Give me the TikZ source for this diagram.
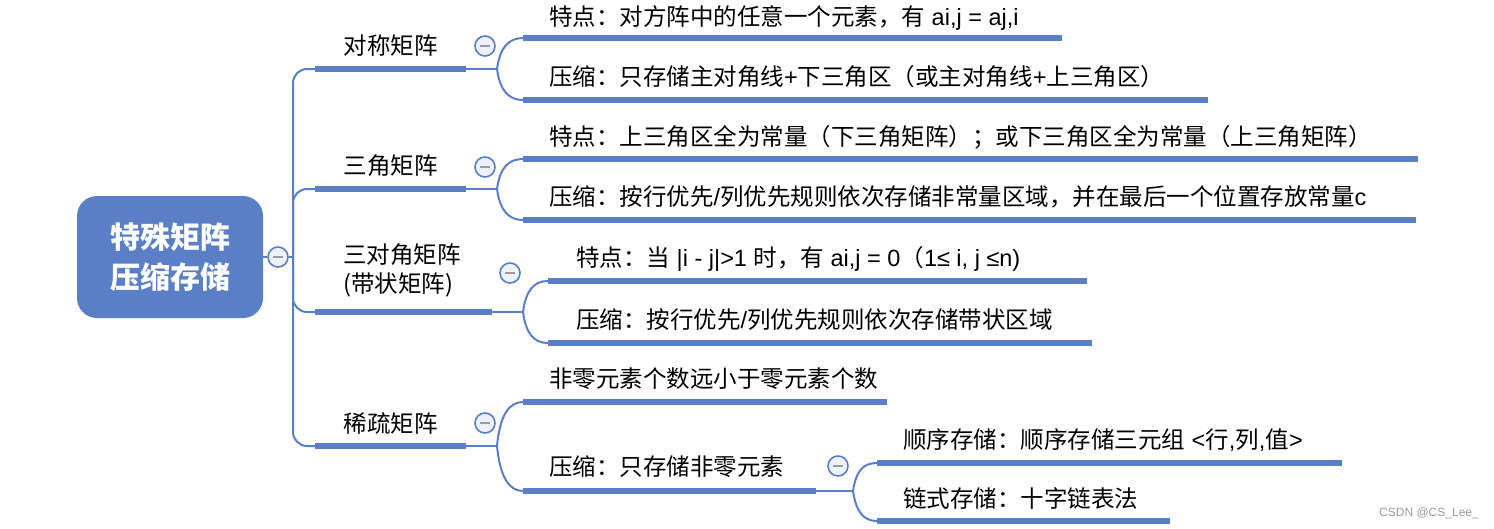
\documentclass[tikz,border=0pt]{standalone}
\usepackage{fontspec}
\setmainfont{Noto Sans CJK SC}
\newfontfamily\wmfont{Liberation Sans}
\newfontfamily\latfont{Liberation Sans}
\newcommand{\lat}[1]{{\latfont #1}}
\definecolor{mblue}{RGB}{91,127,199}
\definecolor{btnfill}{RGB}{238,241,248}
\definecolor{dashgray}{RGB}{150,155,170}
\begin{document}
\begin{tikzpicture}[x=1pt,y=-1pt,
  txt/.style={anchor=west, inner sep=0pt, font=\fontsize{23.5}{28}\selectfont, text height=20.7pt, text depth=2.8pt},
  ltxt/.style={anchor=center, inner sep=0pt, font=\fontsize{23.5}{30}\selectfont},
  bar/.style={line width=6pt, draw=mblue},
  conn/.style={line width=2pt, draw=mblue},
  btn/.style={circle, draw=mblue, line width=1.6pt, fill=btnfill, minimum size=20pt, inner sep=0pt,
    path picture={\draw[line width=2pt, dashgray] ([xshift=-5pt]path picture bounding box.center) -- ([xshift=5pt]path picture bounding box.center);}},
]
\useasboundingbox (0,0) rectangle (1494,528);

% root
\node[fill=mblue, rounded corners=20pt, minimum width=186pt, minimum height=122pt, text=white,
  font=\bfseries\fontsize{30}{40}\selectfont, align=center, inner sep=0pt] (root) at (170,257) {特殊矩阵\\压缩存储};
\node[btn] (rb) at (278,257) {};
\coordinate (trunk) at (293,257);
\draw[conn] (root.east) -- (rb.west);
\draw[conn] (rb.east) -- (trunk);

% level 1 bars
\coordinate (A0) at (315,69);  \coordinate (A1) at (466,69);
\coordinate (B0) at (315,189); \coordinate (B1) at (466,189);
\coordinate (C0) at (315,312); \coordinate (C1) at (492,312);
\coordinate (D0) at (315,446); \coordinate (D1) at (466,446);

\foreach \p in {A0,B0,C0,D0} \draw[conn, rounded corners=14pt] (trunk) |- (\p);
\draw[bar] (A0) -- (A1);
\draw[bar] (B0) -- (B1);
\draw[bar] (C0) -- (C1);
\draw[bar] (D0) -- (D1);

\node[ltxt] (a) at (390.5,46) {对称矩阵};
\node[ltxt] (b) at (390.5,166) {三角矩阵};
\node[ltxt, align=left, anchor=north west, font=\fontsize{23.5}{29.5}\selectfont] (c) at (343,243) {三对角矩阵\\(带状矩阵)};
\node[ltxt] (d) at (390.5,424) {稀疏矩阵};

\node[btn] (ab) at (485,46) {};
\node[btn] (bb) at (485,167) {};
\node[btn] (cb) at (510,273) {};
\node[btn] (db) at (485,423) {};

% junctions
\coordinate (JA) at (497,69);
\coordinate (JB) at (497,189);
\coordinate (JC) at (523,312);
\coordinate (JD) at (497,446);
\draw[conn] (A1) -- (JA);
\draw[conn] (B1) -- (JB);
\draw[conn] (C1) -- (JC);
\draw[conn] (D1) -- (JD);

% level 2 bars
\coordinate (s10) at (523,38);  \coordinate (s11) at (1062,38);
\coordinate (s20) at (523,100); \coordinate (s21) at (1208,100);
\coordinate (t10) at (523,159); \coordinate (t11) at (1418,159);
\coordinate (t20) at (523,220); \coordinate (t21) at (1416,220);
\coordinate (d10) at (548,281); \coordinate (d11) at (1087,281);
\coordinate (d20) at (548,343); \coordinate (d21) at (1092,343);
\coordinate (x10) at (523,402); \coordinate (x11) at (887,402);
\coordinate (x20) at (523,491); \coordinate (x21) at (816,491);
\coordinate (y10) at (877,463); \coordinate (y11) at (1342,463);
\coordinate (y20) at (877,521); \coordinate (y21) at (1170,521);

\draw[conn] (JA) .. controls +(3,-22) and +(-14,0) .. (s10);
\draw[conn] (JA) .. controls +(3,22) and +(-14,0) .. (s20);
\draw[conn] (JB) .. controls +(3,-22) and +(-14,0) .. (t10);
\draw[conn] (JB) .. controls +(3,22) and +(-14,0) .. (t20);
\draw[conn] (JC) .. controls +(3,-22) and +(-14,0) .. (d10);
\draw[conn] (JC) .. controls +(3,22) and +(-14,0) .. (d20);
\draw[conn] (JD) .. controls +(3,-31) and +(-14,0) .. (x10);
\draw[conn] (JD) .. controls +(3,31) and +(-14,0) .. (x20);

\draw[bar] (s10) -- (s11);
\draw[bar] (s20) -- (s21);
\draw[bar] (t10) -- (t11);
\draw[bar] (t20) -- (t21);
\draw[bar] (d10) -- (d11);
\draw[bar] (d20) -- (d21);
\draw[bar] (x10) -- (x11);
\draw[bar] (x20) -- (x21);

\node[txt] (s1) at (549,17) {特点：对方阵中的任意一个元素，有\lat{ ai,j = aj,i}};
\node[txt] (s2) at (549,77) {压缩：只存储主对角线\lat{+}下三角区（或主对角线\lat{+}上三角区）};
\node[txt] (t1) at (549,137) {特点：上三角区全为常量（下三角矩阵）；或下三角区全为常量（上三角矩阵）};
\node[txt] (t2) at (549,197) {压缩：按行优先\lat{/}列优先规则依次存储非常量区域，并在最后一个位置存放常量\lat{c}};
\node[txt] (d1) at (576,258) {特点：当\lat{ |i - j|>1 }时，有\lat{ ai,j = 0}（\lat{1≤ i, j ≤n)}};
\node[txt] (d2) at (576,320) {压缩：按行优先\lat{/}列优先规则依次存储带状区域};
\node[txt] (x1) at (549,379) {非零元素个数远小于零元素个数};
\node[txt] (x2) at (549,467) {压缩：只存储非零元素};

% level 3
\node[btn] (xb) at (838,466) {};
\coordinate (JX) at (853,491);
\draw[conn] (x21) -- (JX);
\draw[conn] (JX) .. controls +(3,-20) and +(-14,0) .. (y10);
\draw[conn] (JX) .. controls +(3,20) and +(-14,0) .. (y20);
\draw[bar] (y10) -- (y11);
\draw[bar] (y20) -- (y21);
\node[txt] (y1) at (903,440) {顺序存储：顺序存储三元组\lat{ <}行\lat{,}列\lat{,}值\lat{>}};
\node[txt] (y2) at (903,499) {链式存储：十字链表法};

\node[font=\wmfont\fontsize{12}{14}\selectfont, text=gray!80, inner sep=0pt] (wm) at (1429,513) {CSDN @CS\_Lee\_};
\end{tikzpicture}
\end{document}
